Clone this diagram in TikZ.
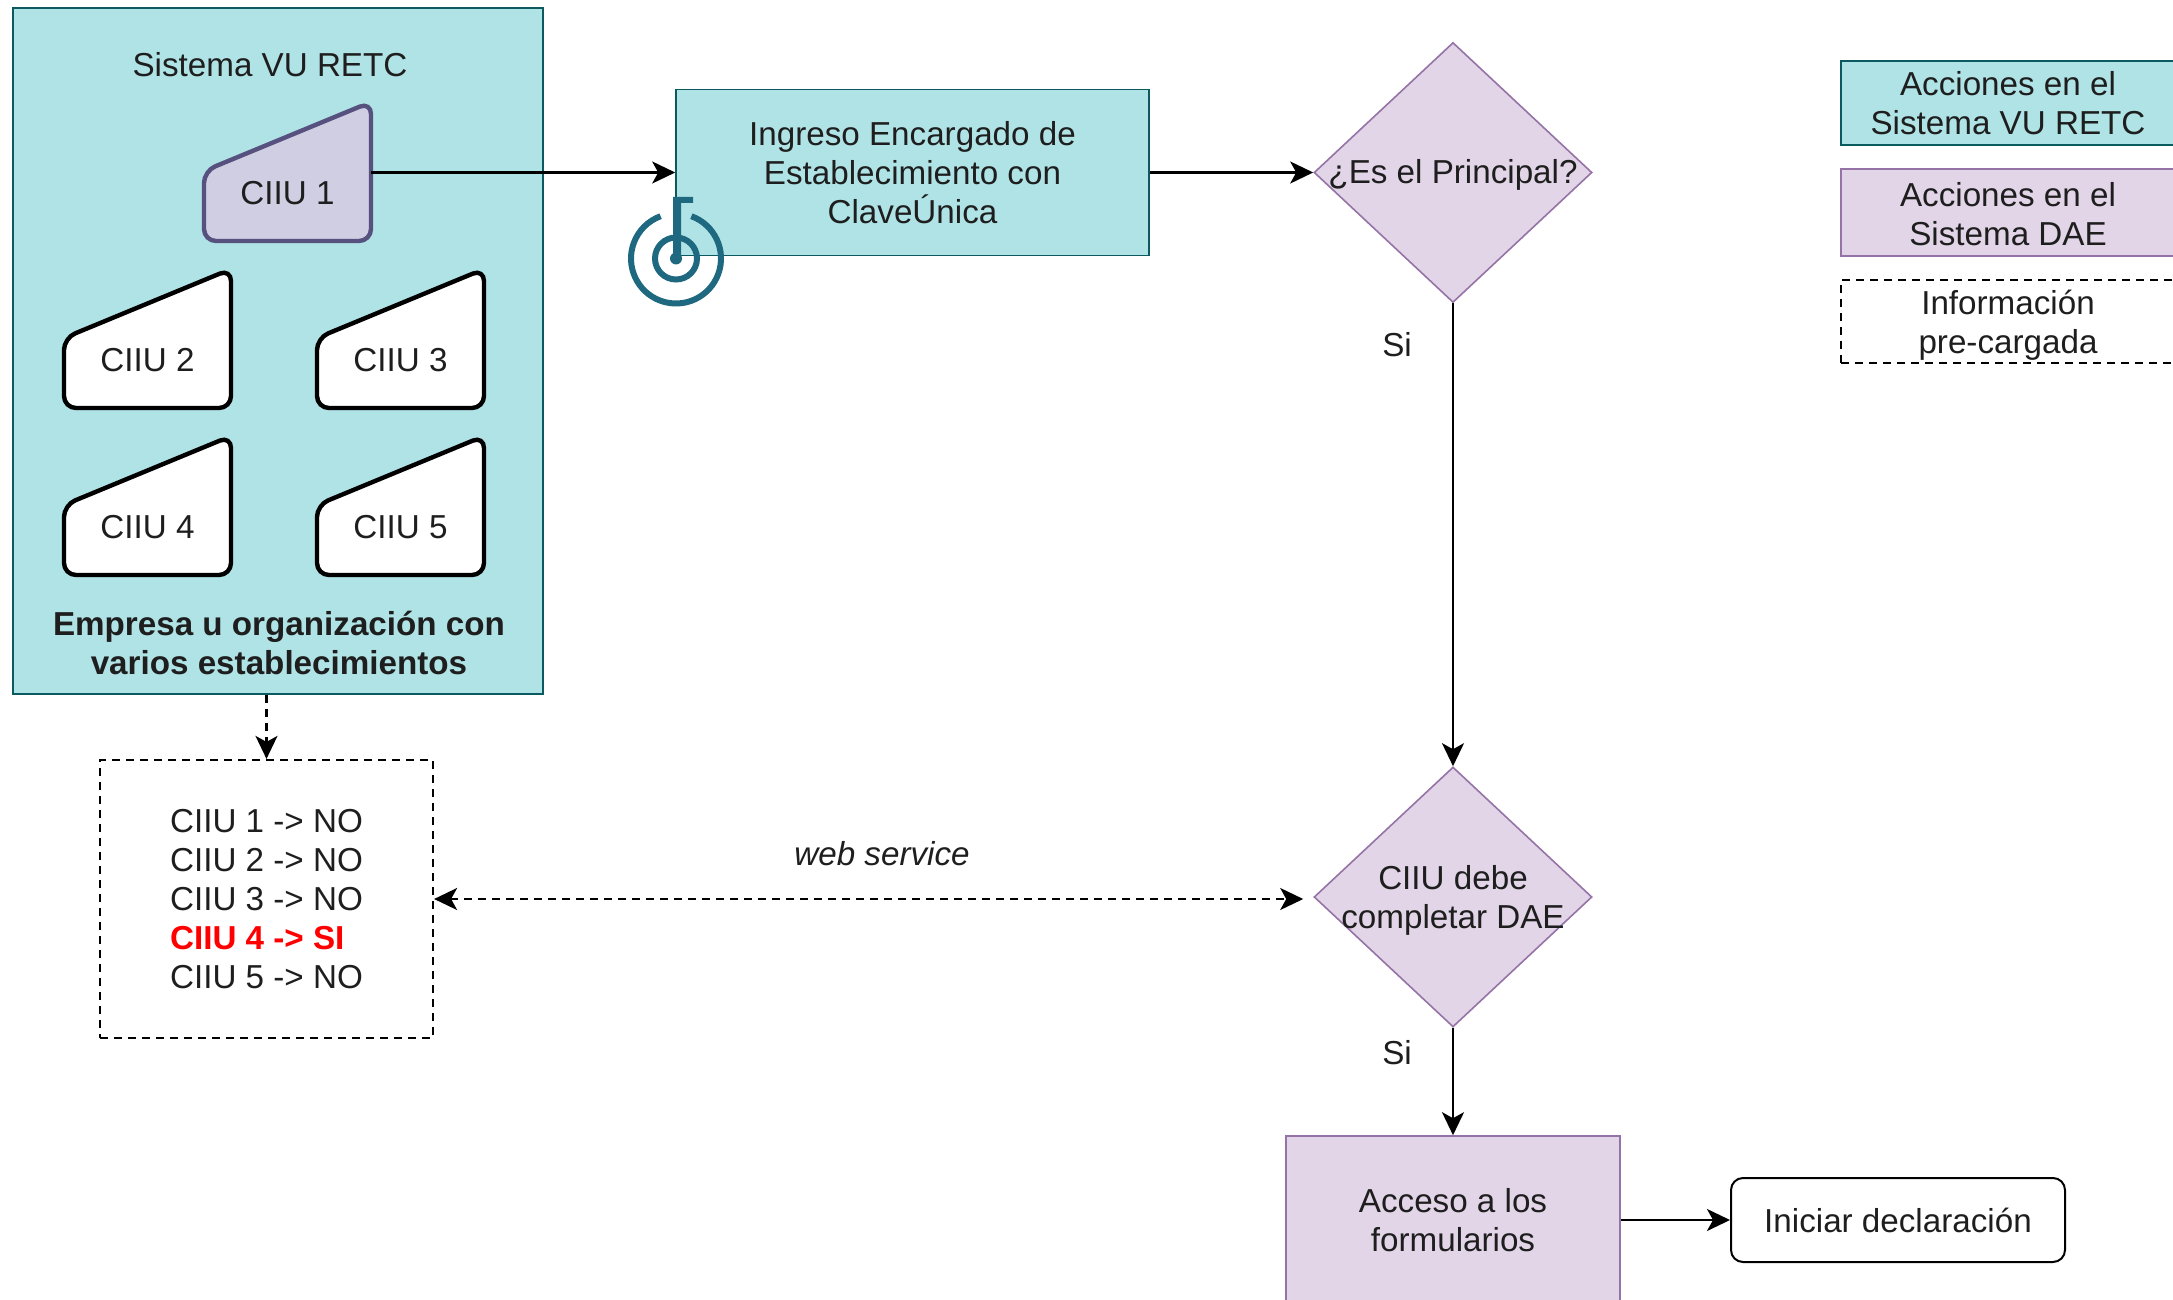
\documentclass[tikz,border=0pt]{standalone}
\usepackage{fontspec}
\setmainfont{Liberation Sans}
\usetikzlibrary{arrows.meta}
\usetikzlibrary{shapes.geometric}

\definecolor{tealfill}{RGB}{176,227,230}
\definecolor{tealline}{RGB}{14,128,136}
\definecolor{lilafill}{RGB}{225,213,231}
\definecolor{lilaline}{RGB}{150,115,166}
\definecolor{cardfill}{RGB}{208,206,226}
\definecolor{cardline}{RGB}{86,81,126}
\definecolor{iconline}{RGB}{30,104,128}
\definecolor{textgray}{RGB}{30,30,30}

\tikzset{
  texto/.style={font=\fontsize{16.6}{19.5}\selectfont,text=textgray,inner sep=0pt,align=center},
  conector/.style={line width=1.2pt,-{Stealth[length=11.5pt,width=11pt,inset=3pt]}},
  rayado/.style={line width=1.1pt,dash pattern=on 4pt off 3pt},
  vuretc/.style={texto,draw=tealline!70!black,fill=tealfill,line width=0.8pt},
  dae/.style={texto,draw=lilaline,fill=lilafill,line width=0.8pt},
  rombo/.style={dae,diamond,aspect=1.07,minimum width=139pt,minimum height=130pt},
  ficha/.style={line width=2.2pt,rounded corners=6pt},
  etiqueta/.style={texto,minimum width=83.5pt}
}

% card with a slanted top, x and y are its top left corner
\newcommand{\ciiucard}[6]{
  \draw [ficha,draw=#5,fill=#6] (#3,#4+66) -- (#3+167,#4-3) -- (#3+167,#4+136) -- (#3,#4+136) -- cycle ;
  \node (#1) at (#3+83.5,#4+88) [etiqueta] {#2};
}
% lines set lower by #1 without changing the size of the node
\newcommand{\bajar}[2]{\raisebox{-#1}[\height][\depth]{\begin{tabular}{@{}c@{}}#2\end{tabular}}}

\begin{document}
\begin{tikzpicture}[x=0.5pt,y=0.5pt,yscale=-1,xscale=1]
\clip [use as bounding box] (0,0) rectangle (2173,1300);

%Outer box
\node (sistema) at (278,351) [vuretc,minimum width=265pt,minimum height=343pt] {};
% Text Node
\node (titulo) at (270,65) [texto] {Sistema VU RETC};
% Text Node
\node (empresa) at (279,643) [texto] {\bfseries Empresa u organización con\\\bfseries varios establecimientos};

%Cards
\ciiucard{ciiuA}{CIIU 1}{204}{105}{cardline}{cardfill}
\ciiucard{ciiuB}{CIIU 2}{64}{272}{black}{white}
\ciiucard{ciiuC}{CIIU 3}{317}{272}{black}{white}
\ciiucard{ciiuD}{CIIU 4}{64}{439}{black}{white}
\ciiucard{ciiuE}{CIIU 5}{317}{439}{black}{white}

%Process boxes
\node (ingreso) at (912.5,172.5) [vuretc,minimum width=236.5pt,minimum height=83pt] {Ingreso Encargado de\\Establecimiento con\\ClaveÚnica};
\node (principal) at (1453,172.5) [rombo] {\makebox[0pt]{\bajar{1.4pt}{¿Es el Principal?}}};
\node (debe) at (1453,897) [rombo] {\makebox[0pt]{\bajar{2pt}{CIIU debe\\completar DAE}}};
\node (acceso) at (1453,1220) [dae,minimum width=167pt,minimum height=84pt] {Acceso a los\\formularios};
\node (iniciar) at (1898,1220) [texto,draw=black,line width=1pt,rounded corners=6pt,minimum width=167pt,minimum height=42pt] {Iniciar declaración};
\node (lista) at (266.5,899) [texto,rayado,draw=black,minimum width=166.5pt,minimum height=139pt,align=left] {CIIU 1 -> NO\\CIIU 2 -> NO\\CIIU 3 -> NO\\\textcolor{red}{\bfseries CIIU 4 -> SI}\\CIIU 5 -> NO};

%Legend
\node (leyendaA) at (2008,103) [vuretc,minimum width=167pt,minimum height=42pt] {Acciones en el\\Sistema VU RETC};
\node (leyendaB) at (2008,212.5) [dae,minimum width=167pt,minimum height=43.5pt] {\bajar{3pt}{Acciones en el\\Sistema DAE}};
\node (leyendaC) at (2008,321.5) [texto,rayado,draw=black,minimum width=167pt,minimum height=41.5pt] {\bajar{2.6pt}{Información\\pre-cargada}};

%Connectors
\draw [conector] (ciiuA.east |- ingreso.west) -- (ingreso.west) ;
\draw [conector] (ingreso.east) -- (principal.west) ;
\draw [conector] (principal.south) -- (debe.north) ;
\draw [conector] (debe.south) -- (acceso.north) ;
\draw [conector] (acceso.east) -- (iniciar.west) ;
\draw [conector,rayado] (lista.north |- sistema.south) -- (lista.north) ;
\draw [rayado,{Stealth[length=11.5pt,width=11pt,inset=3pt]}-{Stealth[length=11.5pt,width=11pt,inset=3pt]},shorten >=5pt] (lista.east) -- (lista.east -| debe.west) ;

% Text Node
\node (webservice) at (882,854) [texto] {\itshape web service};
% Text Node
\node (siA) at (1397,345) [texto] {Si};
% Text Node
\node (siB) at (1397,1053) [texto] {Si};

%Icon
\draw [iconline,line width=3pt] (676,258.5) ++(-70:45) arc (-70:250:45) ;
\draw [iconline,line width=3pt] (676,258.5) circle (21) ;
\fill [iconline] (676,258.5) circle (6) ;
\fill [iconline] (673,258.5) -- (673,197) -- (693,197) -- (693,203) -- (681,203) -- (681,258.5) -- cycle ;

\end{tikzpicture}
\end{document}
